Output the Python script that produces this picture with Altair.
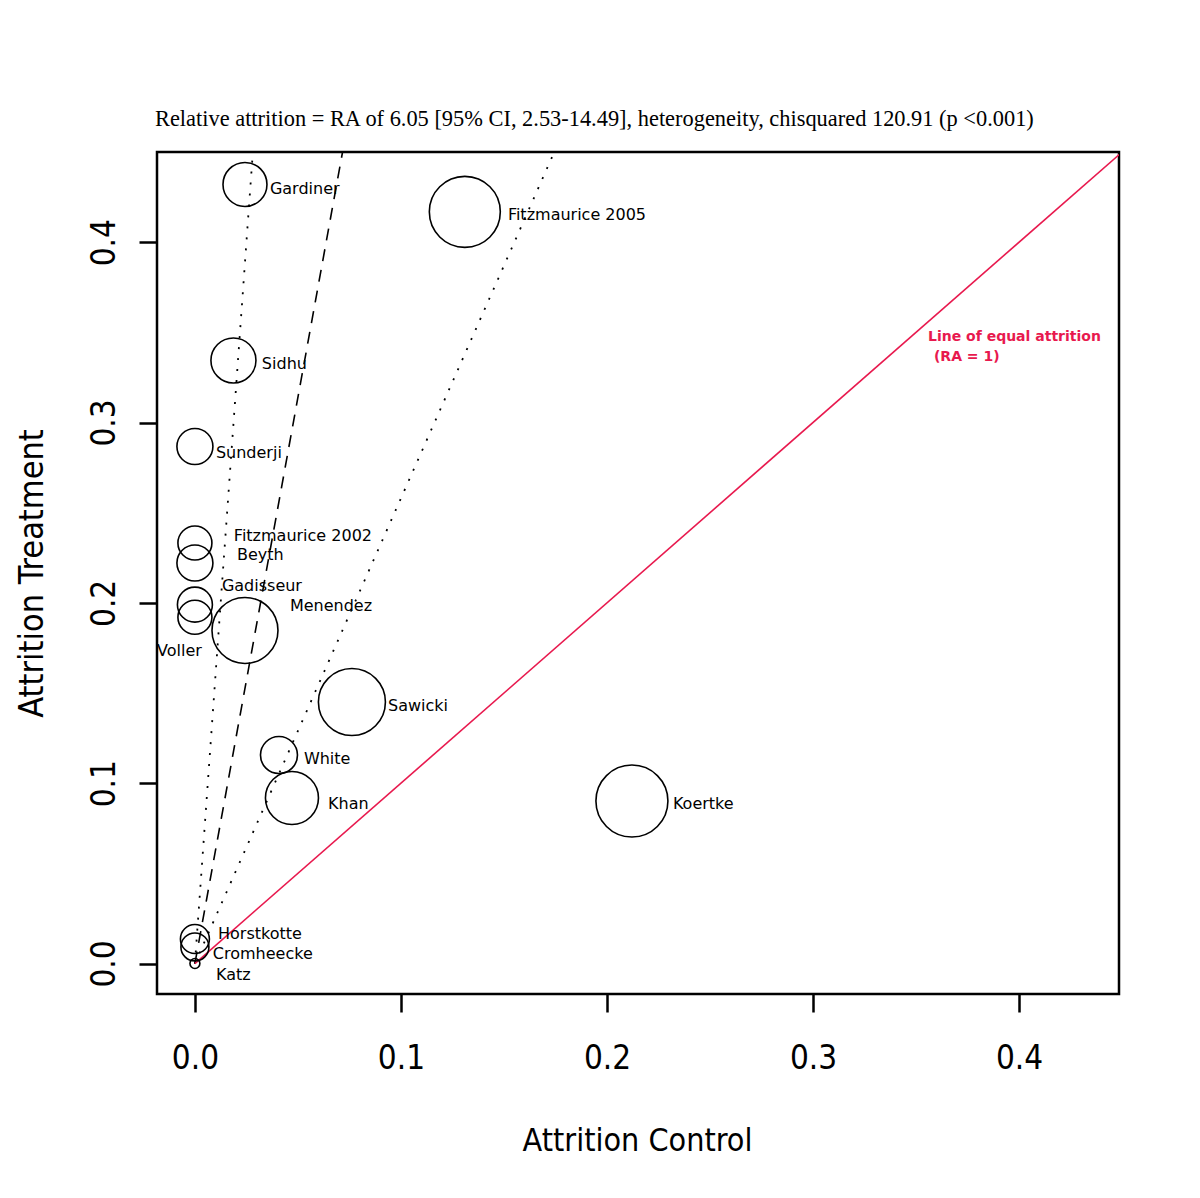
import altair as alt
import pandas as pd

# ---- data ----
studies = ["Gardiner", "Fitzmaurice 2005", "Sidhu", "Sunderji", "Fitzmaurice 2002",
           "Beyth", "Gadisseur", "Voller", "Menendez", "Sawicki", "White", "Khan",
           "Koertke", "Horstkotte", "Cromheecke", "Katz"]
attr_control = [0.0243, 0.131, 0.0187, 0.0, 0.0, 0.0, 0.0, 0.0, 0.0243, 0.0762,
                0.0408, 0.0471, 0.2121, 0.0, 0.0, 0.0]
attr_treatment = [0.432, 0.4168, 0.3344, 0.2867, 0.2332, 0.2221, 0.199, 0.192, 0.1847,
                  0.145, 0.1156, 0.0918, 0.0901, 0.0136, 0.0092, 0.0]
weight = [37.3, 97.2, 39.1, 25.0, 22.3, 25.0, 23.6, 22.3, 84.0, 86.6, 26.4, 54.2,
          100.0, 16.2, 15.1, 1.9]
label_x = [0.0364, 0.1519, 0.0325, 0.0102, 0.0189, 0.0204, 0.0131, -0.0184, 0.0461,
           0.0937, 0.0529, 0.0646, 0.2320, 0.0112, 0.0087, 0.0102]
label_y = [0.4296, 0.4151, 0.3325, 0.2831, 0.2372, 0.2266, 0.2094, 0.1733, 0.1983,
           0.1428, 0.1134, 0.0885, 0.0885, 0.0163, 0.0052, -0.0064]

ra_pooled = 6.28      # dashed line (pooled relative attrition)
ra_ci = [2.58, 16.0]  # dotted lines (confidence limits)
y_top = 0.45

title_text = ("Relative attrition = RA of 6.05 [95% CI, 2.53-14.49], heterogeneity, "
              "chisquared 120.91 (p <0.001)")
equal_text = ["Line of equal attrition", "(RA = 1)"]
equal_x = [0.3558, 0.3587]
equal_y = [0.3475, 0.3364]

ticks = [0.0, 0.1, 0.2, 0.3, 0.4]
x_dom = [-0.0184, 0.4485]
y_dom = [-0.0169, 0.450]

RED = "#e8194e"
NARROW = "Liberation Sans Narrow, Arial Narrow, DejaVu Sans Condensed, sans-serif"

# ---- tables ----
pts = pd.DataFrame({"study": studies, "ctrl": attr_control, "trt": attr_treatment,
                    "weight": weight})
labs = pd.DataFrame({"study": studies, "lx": label_x, "ly": label_y})

def ray(name, slope):
    return pd.DataFrame({"line": [name, name], "ctrl": [0.0, y_top / slope],
                         "trt": [0.0, y_top]})

dashed_df = ray("pooled", ra_pooled)
dotted_df = pd.concat([ray("lo", ra_ci[0]), ray("hi", ra_ci[1])])
equal_df = ray("equal", 1.0)
equal_lab = pd.DataFrame({"t": equal_text, "x": equal_x, "y": equal_y})

xs = alt.Scale(domain=x_dom, nice=False, zero=False)
ys = alt.Scale(domain=y_dom, nice=False, zero=False)

x_axis = alt.Axis(values=ticks, format=".1f", title="Attrition Control",
                  titleX=480, titleY=156, titleBaseline="alphabetic", titleAlign="center",
                  titleFontSize=32,
                  labelPadding=30, labelBaseline="top", grid=False, domain=False)
y_axis = alt.Axis(values=ticks, format=".1f", title="Attrition Treatment",
                  titleX=-115, titleY=421, titleAngle=270, titleBaseline="alphabetic",
                  titleAlign="center", labelAngle=270, labelAlign="center",
                  labelBaseline="bottom", labelPadding=18, grid=False, domain=False)

X = alt.X("ctrl:Q", scale=xs, axis=x_axis)
Y = alt.Y("trt:Q", scale=ys, axis=y_axis)

dashed = alt.Chart(dashed_df).mark_line(color="black", strokeWidth=1.6,
                                        strokeDash=[12, 9], clip=True).encode(
    x=X, y=Y, detail="line:N")
dotted = alt.Chart(dotted_df).mark_line(color="black", strokeWidth=1.8,
                                        strokeDash=[2, 9], clip=True).encode(
    x=X, y=Y, detail="line:N")
equal = alt.Chart(equal_df).mark_line(color=RED, strokeWidth=1.6, clip=True).encode(
    x=X, y=Y)

circles = alt.Chart(pts).mark_point(shape="circle", filled=False, color="black",
                                    strokeWidth=1.6, opacity=1).encode(
    x=X, y=Y,
    size=alt.Size("weight:Q", scale=alt.Scale(type="linear", domain=[0, 100],
                                              range=[0, 5184]), legend=None))

labels = alt.Chart(labs).mark_text(align="left", baseline="middle", font="DejaVu Sans",
                                   fontSize=16, color="black").encode(
    x=alt.X("lx:Q", scale=xs), y=alt.Y("ly:Q", scale=ys), text="study:N")

eq_labels = alt.Chart(equal_lab).mark_text(align="left", baseline="middle",
                                           font="DejaVu Sans", fontSize=14,
                                           fontWeight="bold", color=RED).encode(
    x=alt.X("x:Q", scale=xs), y=alt.Y("y:Q", scale=ys), text="t:N")

chart = alt.layer(dotted, dashed, equal, circles, labels, eq_labels).properties(
    width=962, height=842,
    background="white",
    title=alt.TitleParams(title_text, anchor="start", frame="group",
                          font="Liberation Serif",
                          fontSize=22.4, fontWeight="normal", color="black",
                          offset=22, dx=-2),
    autosize=alt.AutoSizeParams(type="none"),
    padding={"left": 149, "top": 144, "right": 70, "bottom": 190},
).configure_view(stroke="black", strokeWidth=2.5).configure_axis(
    domain=False, grid=False, tickColor="black", tickWidth=2.5, tickSize=18,
    labelFont=NARROW, labelFontSize=33, labelColor="black",
    titleFont=NARROW, titleFontSize=34, titleFontWeight="normal", titleColor="black",
)

chart.save("out.html", embed_options={"renderer": "svg", "actions": False})
